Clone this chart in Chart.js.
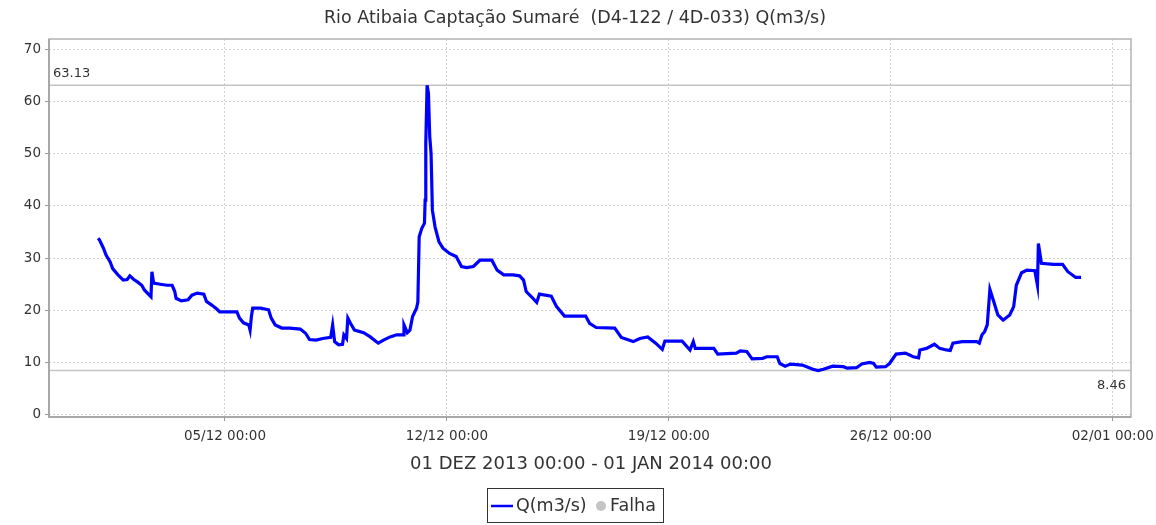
<!DOCTYPE html>
<html><head><meta charset="utf-8">
<script src="https://cdn.jsdelivr.net/npm/chart.js@4.4.1/dist/chart.umd.min.js"></script>
<style>html,body{margin:0;padding:0;background:#fff}</style>
</head><body>
<canvas id="c" width="1156" height="525"></canvas>
<script>
// ---- data (hours since 01 DEZ 2013 00:00) ----
const hours = [0,1,4,6,9,11,15,19,22,24,27,30,33,35,38,40,40.7,42,47,52,56,58,59,63,68,71,75,80,82,86,90,92,97,105,107,110,114,115,116,117,123,129,131,134,139,145,153,157,160,165,170,176,177.5,179,182,185,186,188,189,191,194,201,206,212,216,221,226,231,231.5,234,236,238,241,242,243,245,247,247.5,248,249,250,251,252,253,255,258,261,266,271,275,279,284,289,298,302,307,314,319,322,324,328,332,334,343,347,353,369,372,377,391,396,405,410,416,422,427,429,442,448,450.5,452,466,469,483,486,491,495,503,506,514,516,520,524,533,541,545,549,556,564,567,574,578,584,587,589,596,599,604,611,617,621,622,627,633,637,642,645,647,654,665,667,669,671,673,675,678,681,685,690,693,695,699,703,709,711,711.7,714,723,730,734,740,744];
const flow = [33.8,33.5,31.9,30.6,29.3,28.0,26.8,25.8,25.9,26.6,25.9,25.4,24.8,23.9,23.1,22.6,27.4,25.2,25.0,24.8,24.8,23.6,22.3,21.8,22.0,22.9,23.3,23.1,21.7,21.0,20.2,19.7,19.7,19.7,18.5,17.6,17.2,16.2,18.8,20.4,20.4,20.1,18.5,17.2,16.6,16.6,16.4,15.6,14.4,14.3,14.6,14.8,17.2,14.0,13.4,13.5,15.3,14.6,18.5,17.5,16.2,15.7,14.9,13.7,14.3,14.9,15.3,15.3,17.2,15.7,16.2,18.8,20.4,21.6,34.1,35.7,36.7,41.1,52.0,63.13,61.6,53.3,50.1,39.2,36.0,33.1,31.9,30.9,30.3,28.4,28.2,28.4,29.6,29.6,27.7,26.8,26.8,26.6,25.8,23.6,22.6,21.5,23.1,22.7,20.7,18.9,18.9,17.5,16.7,16.6,14.8,14.0,14.6,14.9,13.7,12.5,14.1,14.1,12.4,14.0,12.7,12.7,11.6,11.8,12.2,12.1,10.7,10.8,11.1,11.1,9.8,9.3,9.7,9.5,8.7,8.46,8.7,9.3,9.2,8.9,9.0,9.7,10.0,9.8,9.1,9.2,9.8,11.6,11.8,11.1,10.9,12.4,12.7,13.5,12.7,12.4,12.3,13.7,14.0,14.0,13.7,15.3,15.9,17.2,24.0,21.6,19.1,18.1,19.1,20.7,24.8,27.2,27.7,27.6,24.8,32.8,29.0,28.8,28.8,27.4,26.3,26.3];
const xTickHours = [96,264,432,600,768];
const xTickLabels = ['05/12 00:00','12/12 00:00','19/12 00:00','26/12 00:00','02/01 00:00'];
const yTicks = [0,10,20,30,40,50,60,70];
const markerValues = [63.13, 8.46];
const markerLabels = ['63.13','8.46'];
const seriesNames = ['Q(m3/s)','Falha'];
const seriesColors = ['#0000ff','#c4c4c4'];
const chartTitle = 'Rio Atibaia Captação Sumaré  (D4-122 / 4D-033) Q(m3/s)';
const rangeLabel = '01 DEZ 2013 00:00 - 01 JAN 2014 00:00';

const FONT = "'DejaVu Sans', sans-serif";

const decor = {
  id: 'decor',
  beforeDatasetsDraw(chart) {
    const {ctx, chartArea: a, scales: {y}} = chart;
    ctx.save();
    ctx.strokeStyle = '#c4c4c4';
    ctx.lineWidth = 1.5;
    markerValues.forEach(v => {
      const py = y.getPixelForValue(v);
      ctx.beginPath(); ctx.moveTo(a.left, py); ctx.lineTo(a.right, py); ctx.stroke();
    });
    ctx.fillStyle = '#333';
    ctx.font = '13px ' + FONT;
    ctx.textBaseline = 'alphabetic'; ctx.textAlign = 'left';
    ctx.fillText(markerLabels[0], a.left + 4, y.getPixelForValue(markerValues[0]) - 8);
    ctx.textAlign = 'right';
    ctx.fillText(markerLabels[1], a.right - 5, y.getPixelForValue(markerValues[1]) + 18);
    ctx.restore();
  },
  afterDraw(chart) {
    const {ctx, chartArea: a} = chart;
    ctx.save();
    // plot frame
    ctx.strokeStyle = '#b4b4b4'; ctx.lineWidth = 1.5;
    ctx.strokeRect(a.left, a.top, a.right - a.left, a.bottom - a.top);
    ctx.strokeStyle = '#a0a0a0';
    ctx.beginPath(); ctx.moveTo(a.left, a.top); ctx.lineTo(a.left, a.bottom); ctx.lineTo(a.right, a.bottom); ctx.stroke();
    // title
    ctx.fillStyle = '#333';
    ctx.font = '17.5px ' + FONT;
    ctx.textAlign = 'center'; ctx.textBaseline = 'middle';
    ctx.fillText(chartTitle, 575, 18);
    // range label
    ctx.font = '18px ' + FONT;
    ctx.fillText(rangeLabel, 591, 464);
    // legend
    ctx.font = '17.5px ' + FONT;
    const lx = 487, ly = 488, lw = 176, lh = 34;
    ctx.strokeStyle = '#333'; ctx.lineWidth = 1;
    ctx.strokeRect(lx + 0.5, ly + 0.5, lw, lh);
    ctx.strokeStyle = seriesColors[0]; ctx.lineWidth = 2.5;
    ctx.beginPath(); ctx.moveTo(lx + 4, ly + 18); ctx.lineTo(lx + 26, ly + 18); ctx.stroke();
    ctx.fillStyle = '#333'; ctx.textAlign = 'left';
    ctx.fillText(seriesNames[0], lx + 29, ly + 18);
    ctx.fillStyle = seriesColors[1];
    ctx.beginPath(); ctx.arc(lx + 114, ly + 18, 5, 0, Math.PI * 2); ctx.fill();
    ctx.fillStyle = '#333';
    ctx.fillText(seriesNames[1], lx + 123, ly + 18);
    ctx.restore();
  }
};

new Chart(document.getElementById('c'), {
  type: 'line',
  data: {
    datasets: [
      { label: seriesNames[0], data: hours.map((h, i) => ({x: h, y: flow[i]})),
        borderColor: seriesColors[0], borderWidth: 3.2, pointRadius: 0, tension: 0, fill: false },
      { label: seriesNames[1], data: [], borderColor: seriesColors[1], backgroundColor: seriesColors[1], pointRadius: 0 }
    ]
  },
  options: {
    responsive: false, animation: false,
    layout: { padding: { left: 0, top: 39, right: 25, bottom: 0 } },
    plugins: { legend: { display: false }, title: { display: false }, tooltip: { enabled: false } },
    scales: {
      x: {
        type: 'linear', min: -37.2, max: 781.8,
        afterBuildTicks: s => { s.ticks = xTickHours.map(v => ({value: v})); },
        afterFit: s => { s.height = 108; s.paddingLeft = 0; s.paddingRight = 0; },
        ticks: { callback: v => xTickLabels[xTickHours.indexOf(v)], maxRotation: 0, autoSkip: false,
                 color: '#333', font: { family: FONT, size: 13.5 }, padding: 7 },
        grid: { color: '#d2d2d2', lineWidth: 1, tickLength: 4, tickColor: '#999', tickBorderDash: [] },
        border: { display: false, dash: [2, 2] }
      },
      y: {
        type: 'linear', min: -0.45, max: 72,
        afterBuildTicks: s => { s.ticks = yTicks.map(v => ({value: v})); },
        afterFit: s => { s.width = 49; s.paddingTop = 0; s.paddingBottom = 0; },
        ticks: { callback: v => String(v), color: '#333', font: { family: FONT, size: 13.5 }, padding: 4 },
        grid: { color: '#d2d2d2', lineWidth: 1, tickLength: 4, tickColor: '#999', tickBorderDash: [] },
        border: { display: false, dash: [2, 2] }
      }
    }
  },
  plugins: [decor]
});
</script>
</body></html>
